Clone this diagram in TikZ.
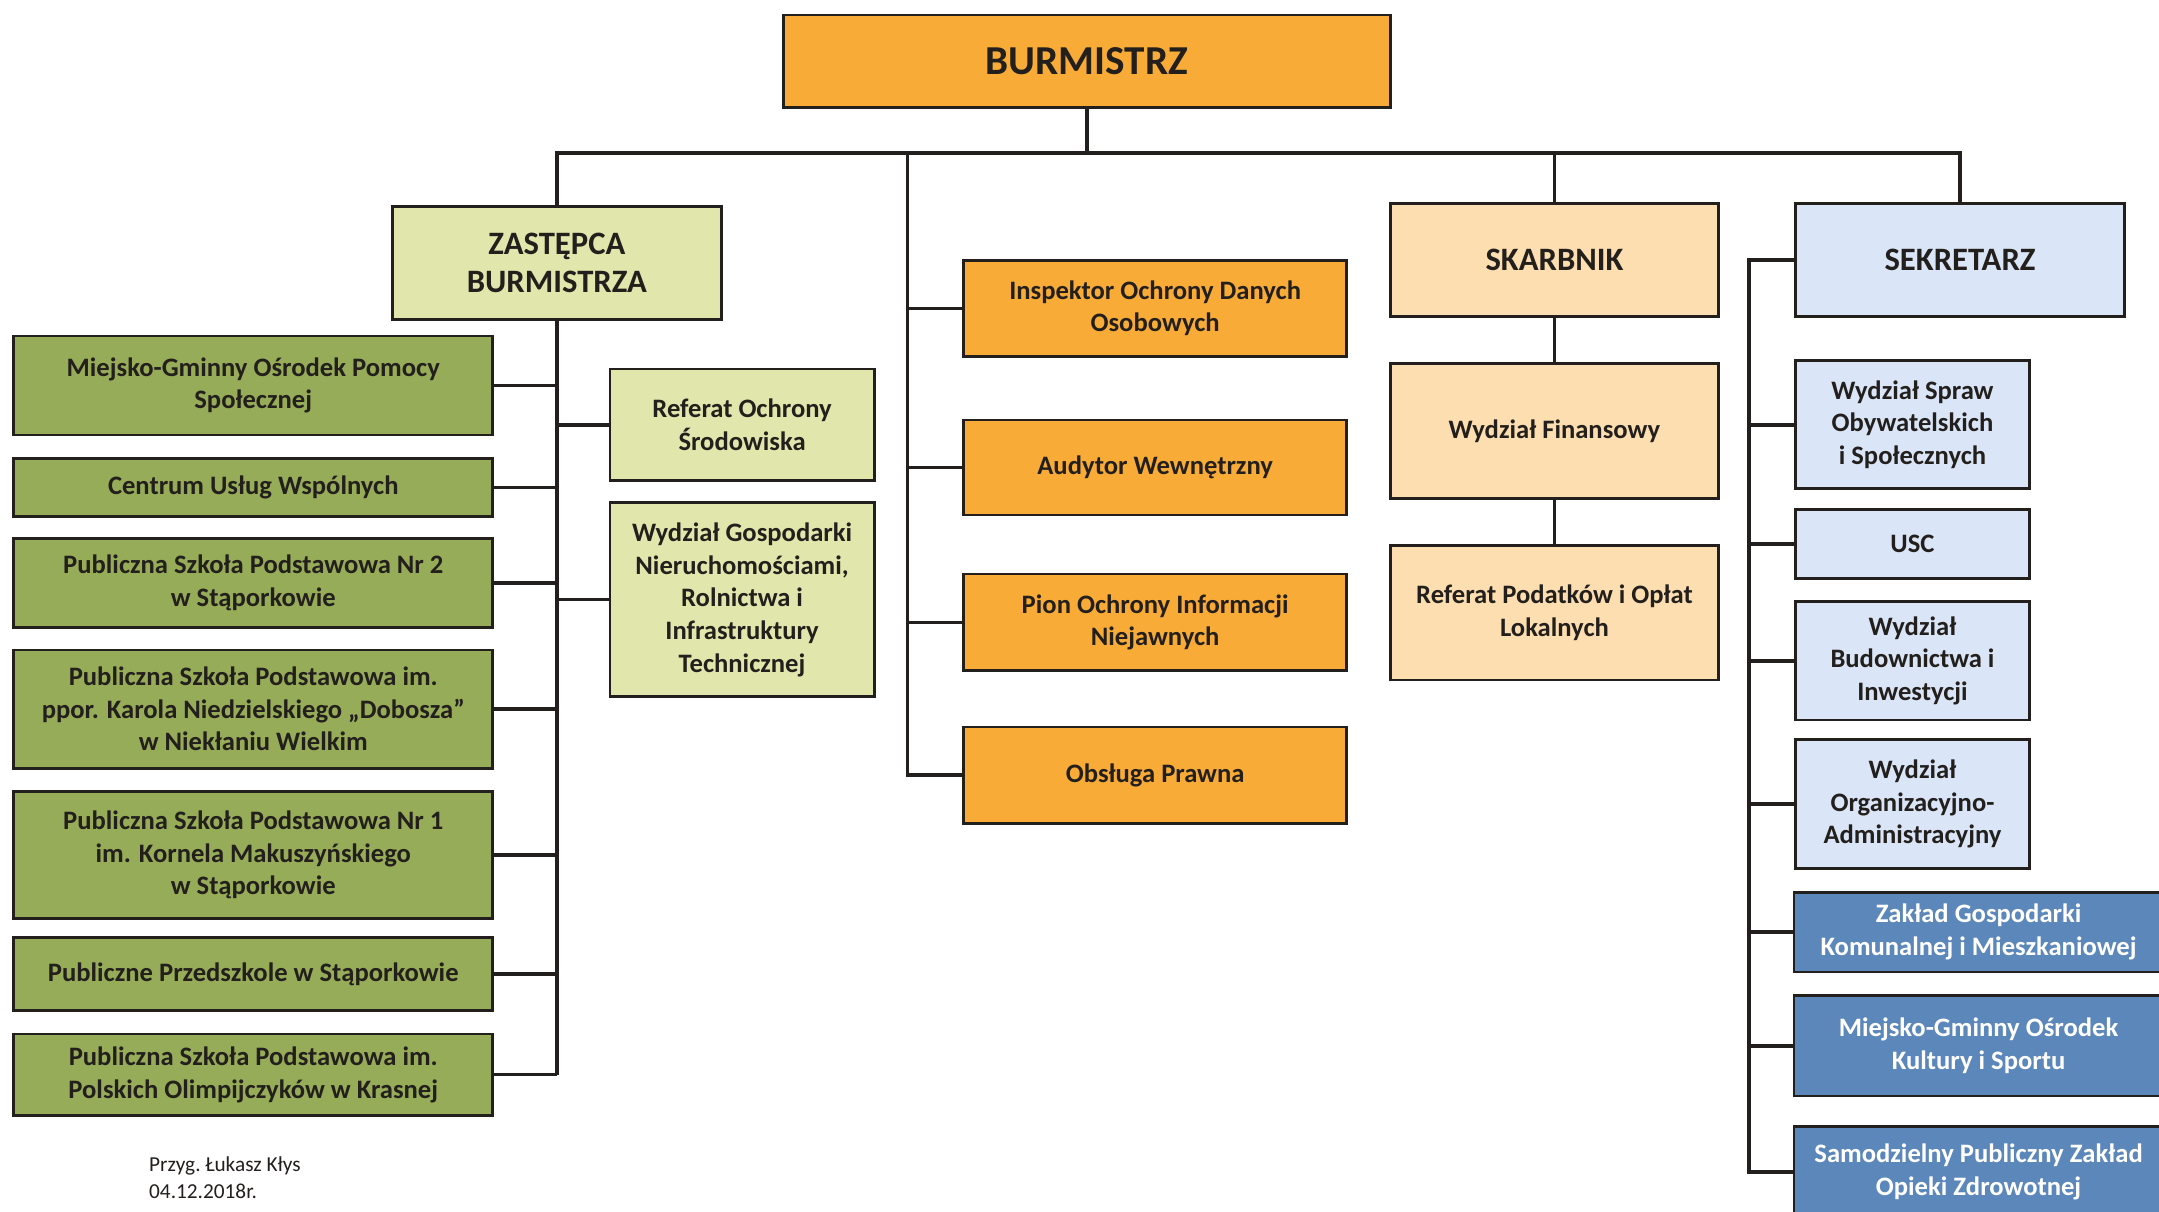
\documentclass[tikz,border=0pt]{standalone}
\usepackage{fontspec}
\setmainfont{Carlito}
\definecolor{burorange}{RGB}{248,172,55}
\definecolor{palegreen}{RGB}{225,231,172}
\definecolor{olivegreen}{RGB}{150,172,88}
\definecolor{peach}{RGB}{252,222,176}
\definecolor{paleblue}{RGB}{218,230,247}
\definecolor{steelblue}{RGB}{92,135,186}
\definecolor{ink}{RGB}{35,31,28}
\begin{document}
\begin{tikzpicture}[x=0.02cm,y=-0.02cm,
  boxstyle/.style={draw=ink,line width=1.1pt,align=center,text=ink,inner sep=0pt,anchor=north west,
    font=\fontsize{11}{13.5}\selectfont\bfseries},
  headstyle/.style={boxstyle,font=\fontsize{13.5}{16}\selectfont\bfseries},
  burstyle/.style={boxstyle,fill=burorange,font=\fontsize{17}{20}\selectfont\bfseries},
  orangestyle/.style={boxstyle,fill=burorange,minimum width=5.56cm},
  greenstyle/.style={boxstyle,fill=olivegreen,minimum width=6.96cm},
  palestyle/.style={boxstyle,fill=palegreen,minimum width=3.84cm},
  peachstyle/.style={boxstyle,fill=peach,minimum width=4.76cm},
  bluestyle/.style={boxstyle,fill=paleblue,minimum width=3.40cm},
  darkstyle/.style={boxstyle,fill=steelblue,text=white,minimum width=5.36cm},
  link/.style={draw=ink,line width=1.5pt}]
\useasboundingbox (0,0) rectangle (1568,880);

% top
\node[burstyle,minimum width=8.82cm,minimum height=1.34cm] (bur) at (568,10) {BURMISTRZ};
\node[headstyle,fill=palegreen,minimum width=4.78cm,minimum height=1.64cm] (zast) at (284,149) {ZASTĘPCA\\BURMISTRZA};
\node[headstyle,fill=peach,minimum width=4.76cm,minimum height=1.64cm] (skarb) at (1009,147) {SKARBNIK};
\node[headstyle,fill=paleblue,minimum width=4.78cm,minimum height=1.64cm] (sekr) at (1303,147) {SEKRETARZ};

% zastepca
\node[greenstyle,minimum height=1.44cm] (mgops) at (9,243) {Miejsko-Gminny Ośrodek Pomocy\\Społecznej};
\node[greenstyle,minimum height=0.84cm] (cuw) at (9,332) {Centrum Usług Wspólnych};
\node[greenstyle,minimum height=1.30cm] (psp2) at (9,390) {Publiczna Szkoła Podstawowa Nr 2\\w Stąporkowie};
\node[greenstyle,minimum height=1.72cm] (pspdob) at (9,471) {Publiczna Szkoła Podstawowa im.\\ppor. Karola Niedzielskiego „Dobosza”\\w Niekłaniu Wielkim};
\node[greenstyle,minimum height=1.84cm] (psp1) at (9,574) {Publiczna Szkoła Podstawowa Nr 1\\im. Kornela Makuszyńskiego\\w Stąporkowie};
\node[greenstyle,minimum height=1.06cm] (przed) at (9,680) {Publiczne Przedszkole w Stąporkowie};
\node[greenstyle,minimum height=1.18cm] (pspkr) at (9,750) {Publiczna Szkoła Podstawowa im.\\Polskich Olimpijczyków w Krasnej};
\node[palestyle,minimum height=1.62cm] (ros) at (442,267) {Referat Ochrony\\Środowiska};
\node[palestyle,minimum height=2.82cm] (wgn) at (442,364) {Wydział Gospodarki\\Nieruchomościami,\\Rolnictwa i\\Infrastruktury\\Technicznej};

% burmistrz
\node[orangestyle,minimum height=1.40cm] (insp) at (699,188) {Inspektor Ochrony Danych\\Osobowych};
\node[orangestyle,minimum height=1.38cm] (audyt) at (699,304) {Audytor Wewnętrzny};
\node[orangestyle,minimum height=1.40cm] (pion) at (699,416) {Pion Ochrony Informacji\\Niejawnych};
\node[orangestyle,minimum height=1.40cm] (obsl) at (699,527) {Obsługa Prawna};

% skarbnik
\node[peachstyle,minimum height=1.96cm] (fin) at (1009,263) {Wydział Finansowy};
\node[peachstyle,minimum height=1.96cm] (podat) at (1009,395) {Referat Podatków i Opłat\\Lokalnych};

% sekretarz
\node[bluestyle,minimum height=1.86cm] (wso) at (1303,261) {Wydział Spraw\\Obywatelskich\\i Społecznych};
\node[bluestyle,minimum height=1.00cm] (usc) at (1303,369) {USC};
\node[bluestyle,minimum height=1.72cm] (wbi) at (1303,436) {Wydział\\Budownictwa i\\Inwestycji};
\node[bluestyle,minimum height=1.88cm] (woa) at (1303,536) {Wydział\\Organizacyjno-\\Administracyjny};
\node[darkstyle,minimum height=1.16cm] (zgkm) at (1302,647) {Zakład Gospodarki\\Komunalnej i Mieszkaniowej};
\node[darkstyle,minimum height=1.46cm] (mgoks) at (1302,722) {Miejsko-Gminny Ośrodek\\Kultury i Sportu};
\node[darkstyle,minimum height=1.32cm] (spzoz) at (1302,817) {Samodzielny Publiczny Zakład\\Opieki Zdrowotnej};

\node[align=left,anchor=north west,inner sep=0pt,text=ink,font=\fontsize{8.8}{11}\selectfont] (footer) at (108,840) {Przyg.\ Łukasz Kłys\\04.12.2018r.};

% lines
\coordinate (bus) at (659,111);
\coordinate (sl) at (1270,188);
\draw[link] (bur.south) -- (bur.south |- bus);
\draw[link] (zast.north) -- (zast.north |- bus) -- (sekr.north |- bus) -- (sekr.north);
\draw[link] (skarb.north |- bus) -- (skarb.north);
\draw[link] (bus) |- (obsl.west);
\foreach \n in {insp,audyt,pion}
  \draw[link] (bus |- \n.west) -- (\n.west);
\draw[link] (zast.south) -- (zast.south |- pspkr.east);
\foreach \n in {mgops,cuw,psp2,pspdob,psp1,przed,pspkr}
  \draw[link] (\n.east) -- (\n.east -| zast.south);
\foreach \n in {ros,wgn}
  \draw[link] (\n.west -| zast.south) -- (\n.west);
\draw[link] (skarb.south) -- (fin.north);
\draw[link] (fin.south) -- (podat.north);
\draw[link] (sekr.west) -- (sekr.west -| sl) |- (spzoz.west);
\foreach \n in {wso,usc,wbi,woa,zgkm,mgoks}
  \draw[link] (sl |- \n.west) -- (\n.west);
\end{tikzpicture}
\end{document}
